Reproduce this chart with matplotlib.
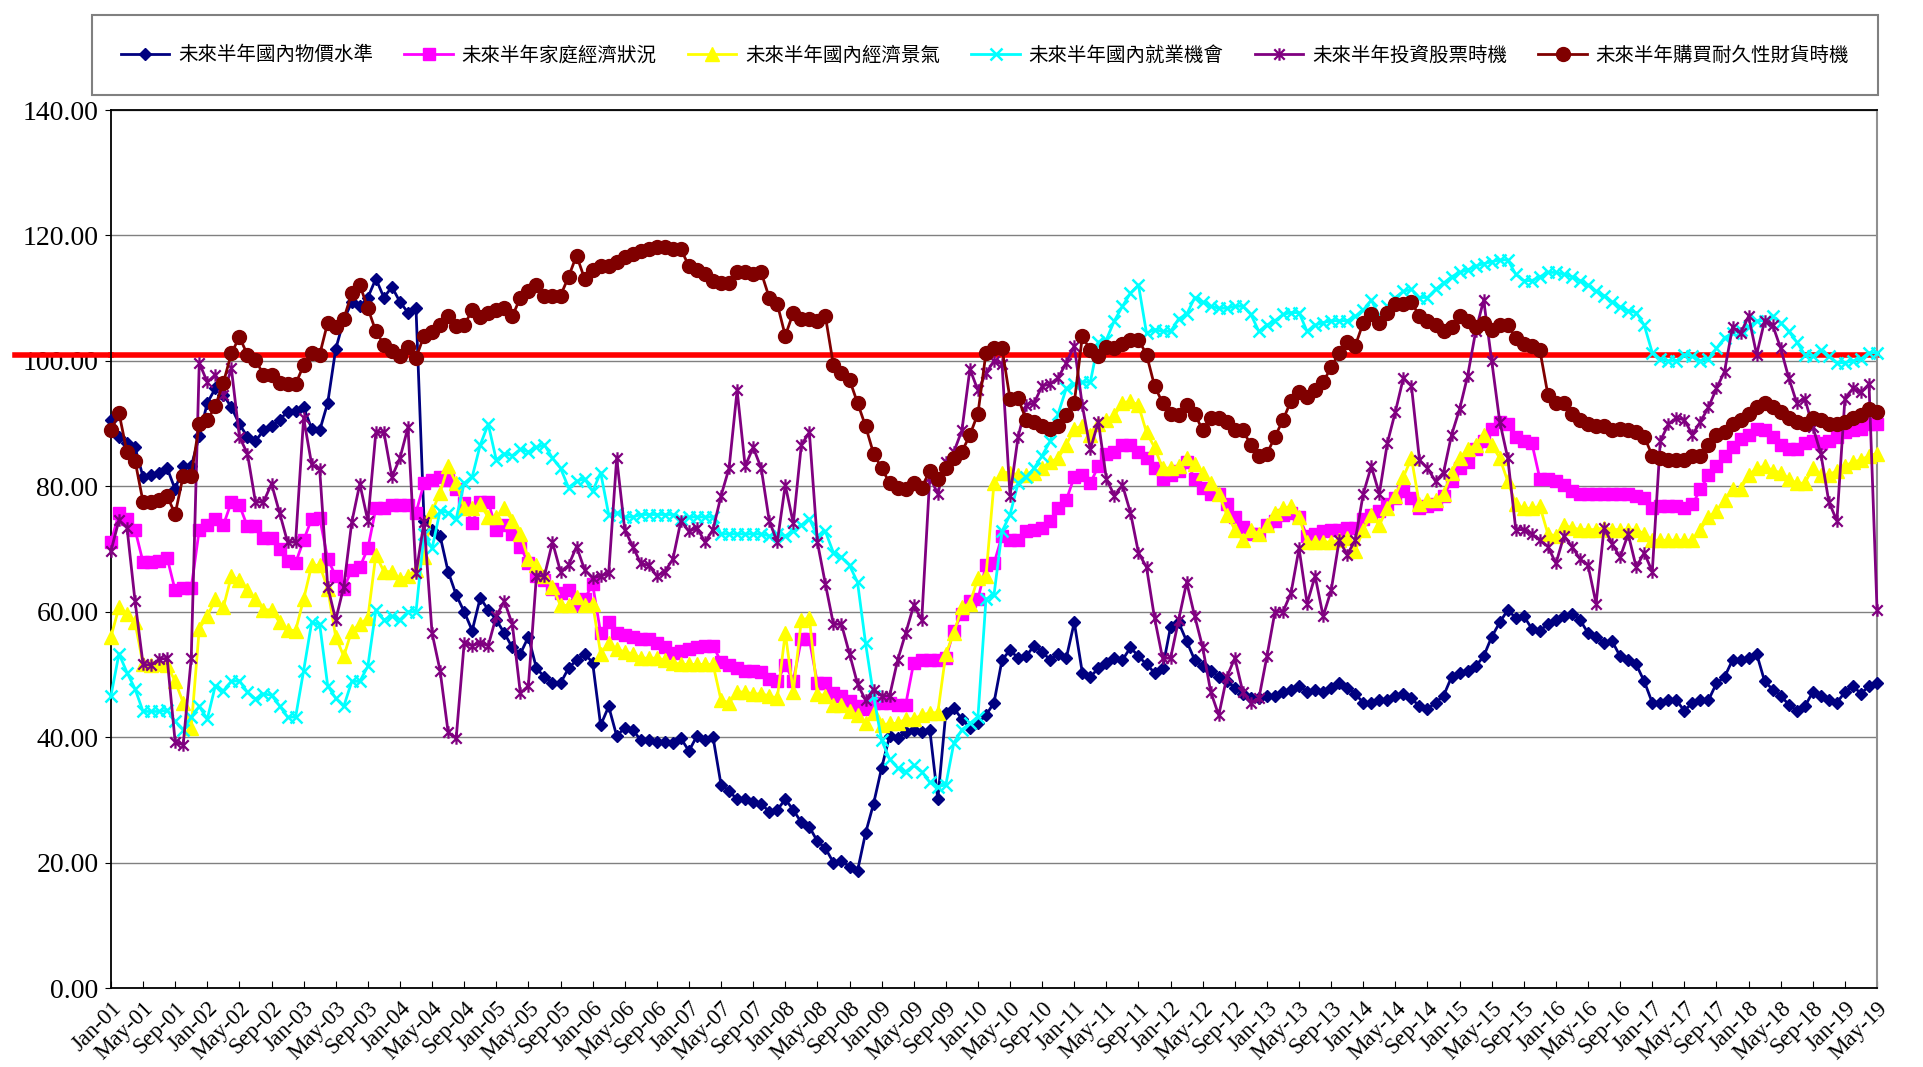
import matplotlib
matplotlib.use("Agg")
import matplotlib.pyplot as plt
from matplotlib.path import Path
from matplotlib.ticker import FormatStrFormatter
import numpy as np

# monthly survey indices, Jan-01 .. May-19
price = [
    90.6, 87.9, 86.9, 86.2, 81.5, 81.8, 82.2, 82.9, 79.5, 83.2, 83.2, 88.0,
    93.3, 95.6, 94.6, 92.6, 89.9, 87.9, 87.2, 88.9, 89.6, 90.6, 91.9, 92.0,
    92.6, 89.2, 88.9, 93.3, 101.9, 106.5, 109.4, 108.7, 110.1, 113.1, 110.1, 111.8,
    109.4, 107.7, 108.4, 74.5, 73.1, 72.1, 66.4, 62.7, 60.0, 57.0, 62.2, 60.3,
    58.7, 56.6, 54.3, 53.3, 56.0, 51.0, 49.6, 48.6, 48.6, 51.0, 52.3, 53.3,
    51.9, 41.9, 44.9, 40.2, 41.5, 41.2, 39.5, 39.5, 39.2, 39.2, 39.0, 39.8,
    37.8, 40.2, 39.5, 40.0, 32.4, 31.4, 30.1, 30.1, 29.7, 29.4, 28.1, 28.4,
    30.1, 28.4, 26.4, 25.7, 23.4, 22.3, 20.0, 20.3, 19.3, 18.7, 24.7, 29.4,
    35.1, 40.2, 39.8, 40.8, 41.2, 40.8, 41.2, 30.1, 43.9, 44.6, 42.9, 41.5,
    42.2, 43.5, 45.5, 52.3, 53.9, 52.6, 52.9, 54.6, 53.6, 52.3, 53.3, 52.6,
    58.3, 50.3, 49.6, 51.0, 51.9, 52.6, 52.3, 54.3, 52.9, 51.6, 50.3, 51.0,
    57.6, 58.3, 55.3, 52.3, 51.3, 50.6, 49.6, 48.9, 47.9, 46.9, 46.2, 46.2,
    46.6, 46.6, 47.2, 47.6, 48.2, 47.2, 47.6, 47.2, 47.9, 48.6, 47.9, 46.9,
    45.5, 45.5, 45.9, 45.9, 46.6, 46.9, 46.2, 44.9, 44.5, 45.5, 46.6, 49.6,
    50.3, 50.6, 51.3, 52.9, 56.0, 58.3, 60.3, 59.0, 59.3, 57.3, 57.0, 58.0,
    58.7, 59.3, 59.7, 58.7, 56.6, 56.0, 55.0, 55.3, 52.9, 52.3, 51.6, 48.9,
    45.5, 45.5, 45.9, 45.9, 44.2, 45.5, 45.9, 45.9, 48.6, 49.6, 52.3, 52.3,
    52.6, 53.3, 48.9, 47.6, 46.6, 45.2, 44.2, 44.9, 47.2, 46.6, 45.9, 45.5,
    47.2, 48.2, 46.9, 48.2, 48.6,
]

family = [
    71.1, 75.7, 74.8, 73.1, 67.9, 67.9, 68.1, 68.6, 63.4, 63.8, 63.8, 73.1,
    73.8, 74.8, 73.8, 77.5, 77.0, 73.6, 73.6, 71.8, 71.8, 70.0, 68.1, 67.8,
    71.4, 74.8, 75.0, 68.4, 65.7, 63.7, 66.7, 67.1, 70.1, 76.5, 76.6, 77.0,
    77.0, 77.0, 75.8, 80.5, 81.0, 81.5, 81.0, 79.5, 77.3, 74.1, 77.5, 77.5,
    73.1, 73.8, 72.4, 70.4, 67.7, 65.7, 65.0, 63.7, 63.0, 63.4, 61.0, 62.0,
    64.4, 56.6, 58.3, 56.6, 56.3, 56.0, 55.6, 55.6, 55.0, 54.3, 53.5, 53.8,
    54.0, 54.4, 54.6, 54.6, 52.0, 51.5, 51.0, 50.6, 50.6, 50.4, 49.2, 49.0,
    51.5, 49.0, 55.6, 55.6, 48.6, 48.6, 47.0, 46.5, 45.8, 45.0, 44.5, 45.5,
    45.5, 45.5, 45.2, 45.2, 51.9, 52.3, 52.3, 52.3, 52.6, 57.0, 59.7, 61.7,
    62.0, 67.4, 67.7, 72.1, 71.4, 71.4, 72.8, 73.1, 73.4, 74.5, 76.5, 77.8,
    81.5, 81.8, 80.5, 83.2, 85.2, 85.5, 86.6, 86.6, 85.5, 84.5, 82.9, 81.2,
    81.8, 82.5, 83.9, 81.2, 79.8, 78.8, 78.8, 77.1, 75.1, 73.5, 72.4, 72.4,
    73.8, 74.5, 75.5, 75.8, 75.1, 72.1, 72.4, 72.8, 73.1, 73.1, 73.4, 73.4,
    74.8, 75.5, 76.1, 77.1, 78.2, 79.2, 78.2, 76.5, 76.8, 77.1, 78.5, 80.8,
    82.9, 83.9, 85.9, 87.2, 89.2, 90.3, 89.9, 87.9, 87.2, 86.9, 81.2, 81.2,
    80.8, 80.2, 79.2, 78.8, 78.8, 78.8, 78.8, 78.8, 78.8, 78.8, 78.5, 78.2,
    76.5, 76.8, 76.8, 76.8, 76.5, 77.1, 79.5, 81.8, 83.2, 84.9, 86.2, 87.6,
    88.2, 89.2, 88.9, 87.9, 86.6, 85.9, 85.9, 86.9, 87.2, 86.9, 87.2, 87.9,
    88.6, 88.9, 89.2, 89.9, 89.9,
]

economy = [
    56.0, 60.7, 59.7, 58.3, 51.6, 51.5, 51.6, 51.5, 48.9, 45.5, 41.5, 57.3,
    59.3, 62.0, 60.7, 65.7, 65.0, 63.4, 62.0, 60.3, 60.3, 58.3, 57.1, 57.0,
    62.0, 67.4, 67.4, 63.7, 56.0, 52.9, 57.0, 58.0, 59.0, 69.1, 66.4, 66.4,
    65.2, 65.7, 66.7, 68.7, 76.0, 79.0, 83.2, 80.5, 76.5, 76.5, 77.1, 75.1,
    75.1, 76.5, 74.5, 72.4, 68.4, 67.4, 65.7, 64.0, 61.0, 61.0, 62.4, 61.0,
    61.3, 53.3, 55.0, 54.0, 53.6, 53.3, 52.6, 52.6, 52.6, 52.3, 51.9, 51.6,
    51.6, 51.6, 51.6, 51.6, 45.9, 45.5, 47.2, 47.2, 46.9, 46.9, 46.6, 46.2,
    56.6, 47.2, 58.7, 59.0, 46.9, 46.6, 45.2, 45.2, 44.2, 43.5, 42.2, 43.9,
    41.9, 42.2, 42.2, 42.9, 42.9, 43.5, 43.9, 43.9, 53.3, 56.6, 60.7, 61.3,
    65.4, 65.7, 80.5, 82.2, 82.2, 81.8, 81.8, 82.2, 82.9, 83.9, 84.5, 86.6,
    89.2, 89.6, 88.2, 89.9, 90.6, 91.3, 93.3, 93.6, 92.9, 88.6, 86.2, 82.9,
    82.9, 83.2, 84.5, 83.5, 82.2, 80.5, 78.8, 75.5, 73.1, 71.4, 73.1, 72.4,
    73.8, 75.8, 76.5, 76.8, 75.1, 71.1, 71.1, 71.1, 71.1, 71.4, 71.8, 69.7,
    73.1, 75.5, 73.8, 76.5, 78.5, 81.5, 84.5, 77.1, 77.8, 77.8, 78.8, 82.2,
    84.5, 85.9, 86.6, 88.2, 86.6, 84.5, 80.8, 77.1, 76.5, 76.5, 76.8, 72.4,
    72.1, 73.8, 73.4, 73.1, 73.1, 73.1, 73.4, 73.1, 73.1, 73.1, 73.1, 72.4,
    71.4, 71.4, 71.4, 71.4, 71.4, 71.4, 73.1, 75.1, 76.1, 77.8, 79.5, 79.5,
    81.8, 82.9, 83.2, 82.5, 82.2, 81.2, 80.5, 80.5, 82.9, 81.8, 81.8, 82.5,
    83.2, 83.9, 84.2, 84.9, 85.2,
]

jobs = [
    46.6, 53.3, 50.3, 47.7, 44.1, 44.1, 44.1, 44.3, 42.5, 41.2, 43.2, 44.9,
    42.9, 48.2, 47.4, 48.9, 49.0, 47.2, 46.1, 46.9, 46.7, 45.0, 43.2, 43.2,
    50.6, 58.3, 58.0, 48.2, 46.2, 44.9, 48.9, 48.9, 51.3, 60.3, 58.7, 59.3,
    58.7, 60.0, 60.0, 72.4, 70.1, 76.1, 75.8, 74.8, 80.5, 81.5, 86.6, 89.9,
    84.2, 85.2, 84.9, 85.9, 85.5, 86.2, 86.6, 84.5, 82.9, 79.8, 80.8, 81.2,
    79.2, 82.2, 75.5, 75.8, 75.1, 75.1, 75.5, 75.5, 75.5, 75.5, 75.5, 74.8,
    75.1, 75.1, 75.1, 75.1, 72.4, 72.4, 72.4, 72.4, 72.4, 72.4, 72.1, 72.4,
    72.1, 72.8, 73.8, 74.8, 72.1, 72.8, 69.4, 68.7, 67.4, 64.7, 55.0, 46.6,
    39.5, 36.5, 35.1, 34.5, 35.5, 34.5, 32.8, 32.1, 32.4, 39.1, 41.2, 42.2,
    43.2, 62.0, 62.7, 72.8, 75.5, 80.5, 81.5, 82.9, 84.9, 87.2, 91.6, 95.6,
    96.3, 96.6, 96.6, 103.0, 103.4, 106.4, 108.7, 110.8, 112.1, 104.4, 105.0, 104.7,
    104.7, 106.7, 107.4, 110.1, 109.4, 108.7, 108.4, 108.4, 108.7, 108.7, 107.4, 104.7,
    105.7, 106.4, 107.4, 107.7, 107.7, 104.7, 105.7, 106.1, 106.4, 106.4, 106.4, 107.1,
    108.1, 109.7, 107.1, 108.7, 110.1, 111.1, 111.4, 110.1, 110.1, 111.4, 112.4, 113.4,
    114.1, 114.5, 115.1, 115.5, 115.8, 116.1, 116.1, 113.8, 112.8, 112.8, 113.4, 114.1,
    114.1, 113.8, 113.4, 112.8, 112.1, 111.1, 110.4, 109.4, 108.6, 108.0, 107.7, 105.7,
    101.3, 100.3, 100.0, 100.0, 101.0, 100.7, 100.0, 100.3, 102.0, 103.7, 104.4, 105.0,
    105.4, 106.4, 106.4, 107.1, 106.1, 104.7, 103.0, 101.0, 100.7, 101.7, 100.7, 99.7,
    99.7, 100.0, 100.3, 101.3, 101.3,
]

stocks = [
    69.7, 74.6, 73.4, 61.7, 51.6, 51.5, 52.4, 52.6, 39.2, 38.8, 52.6, 99.7,
    96.6, 97.8, 94.6, 98.8, 87.9, 85.2, 77.5, 77.5, 80.4, 75.8, 71.1, 71.1,
    90.9, 83.5, 82.7, 64.0, 58.7, 64.0, 74.3, 80.4, 74.5, 88.6, 88.6, 81.5,
    84.5, 89.4, 66.1, 74.3, 56.6, 50.6, 40.8, 39.8, 55.0, 54.6, 55.0, 54.6,
    59.3, 61.7, 58.0, 47.0, 48.2, 65.7, 65.7, 71.1, 66.4, 67.4, 70.4, 66.7,
    65.4, 65.7, 66.1, 84.5, 73.1, 70.4, 67.7, 67.4, 65.7, 66.4, 68.4, 74.5,
    72.8, 73.4, 71.1, 73.1, 78.5, 82.9, 95.3, 83.2, 86.2, 82.9, 74.5, 71.1,
    80.2, 74.1, 86.6, 88.6, 71.1, 64.4, 58.0, 58.0, 53.3, 48.5, 45.9, 47.6,
    46.6, 46.6, 52.3, 56.6, 61.0, 58.7, 81.5, 78.8, 83.9, 85.5, 88.9, 98.7,
    95.3, 98.0, 100.0, 99.5, 78.5, 87.9, 92.9, 93.3, 96.0, 96.3, 97.3, 99.7,
    102.4, 92.9, 85.9, 90.3, 81.2, 78.5, 80.2, 75.8, 69.4, 67.1, 59.0, 52.6,
    52.6, 58.7, 64.7, 59.3, 54.3, 47.2, 43.5, 49.6, 52.6, 47.2, 45.5, 46.2,
    52.9, 60.0, 60.0, 63.0, 70.1, 61.3, 65.7, 59.3, 63.4, 71.4, 69.1, 71.4,
    78.8, 83.2, 78.8, 86.9, 91.9, 97.3, 96.0, 84.2, 82.9, 80.8, 82.2, 88.2,
    92.3, 97.6, 104.7, 109.7, 100.0, 90.3, 84.5, 73.1, 73.1, 72.4, 71.4, 70.4,
    67.7, 72.1, 70.4, 68.4, 67.4, 61.3, 73.4, 70.8, 68.7, 72.4, 67.1, 69.4,
    66.4, 87.2, 89.9, 90.9, 90.6, 88.2, 90.3, 92.6, 95.6, 98.3, 105.4, 104.4,
    107.1, 101.0, 106.4, 105.7, 102.0, 97.3, 93.3, 94.0, 89.5, 85.2, 77.5, 74.5,
    94.0, 95.6, 95.0, 96.3, 60.3,
]

durables = [
    88.9, 91.7, 85.4, 84.1, 77.5, 77.5, 77.8, 78.4, 75.6, 81.7, 81.7, 89.9,
    90.5, 92.8, 96.5, 101.2, 103.8, 101.0, 100.2, 97.8, 97.8, 96.5, 96.3, 96.3,
    99.3, 101.3, 101.0, 106.1, 105.4, 106.7, 110.8, 112.1, 108.4, 104.7, 102.6, 101.5,
    100.7, 102.2, 100.5, 104.0, 104.6, 105.7, 107.1, 105.6, 105.7, 108.1, 107.0, 107.7,
    108.1, 108.4, 107.1, 110.1, 111.1, 112.1, 110.4, 110.4, 110.4, 113.4, 116.8, 113.1,
    114.5, 115.1, 115.1, 115.8, 116.5, 117.1, 117.5, 117.8, 118.2, 118.2, 117.8, 117.8,
    115.1, 114.5, 113.8, 112.8, 112.4, 112.4, 114.1, 114.1, 113.8, 114.1, 110.1, 109.1,
    104.0, 107.7, 106.7, 106.7, 106.4, 107.1, 99.3, 98.0, 97.0, 93.3, 89.6, 85.2,
    82.9, 80.5, 79.8, 79.5, 80.5, 79.8, 82.5, 81.2, 82.9, 84.5, 85.5, 88.2,
    91.6, 101.3, 102.0, 102.0, 93.9, 94.1, 90.6, 90.3, 89.6, 89.2, 89.6, 91.3,
    93.3, 103.9, 101.7, 100.7, 102.2, 102.0, 102.7, 103.4, 103.4, 101.0, 96.0, 93.3,
    91.6, 91.3, 92.9, 91.6, 88.9, 90.9, 90.9, 90.3, 88.9, 88.9, 86.6, 84.9,
    85.2, 87.9, 90.6, 93.6, 95.0, 94.3, 95.3, 96.6, 99.0, 101.3, 103.0, 102.4,
    106.1, 107.4, 106.1, 107.7, 109.1, 109.1, 109.4, 107.1, 106.4, 105.7, 104.7, 105.4,
    107.1, 106.4, 105.4, 106.1, 105.0, 105.7, 105.7, 103.7, 102.7, 102.4, 101.7, 94.6,
    93.3, 93.3, 91.6, 90.6, 89.9, 89.6, 89.6, 88.9, 89.2, 88.9, 88.6, 87.9,
    84.9, 84.5, 84.2, 84.2, 84.2, 84.9, 84.9, 86.6, 88.2, 88.6, 89.9, 90.6,
    91.6, 92.6, 93.3, 92.6, 91.9, 90.9, 90.3, 89.9, 90.9, 90.6, 89.9, 89.9,
    90.3, 90.9, 91.3, 92.3, 91.9,
]

series_names = ["未來半年國內物價水準", "未來半年家庭經濟狀況", "未來半年國內經濟景氣",
                "未來半年國內就業機會", "未來半年投資股票時機", "未來半年購買耐久性財貨時機"]
tick_months = ["Jan", "May", "Sep"]
ref_level = 101

plt.rcParams['font.family'] = ['Liberation Serif', 'Noto Sans CJK TC']

# excel style "asterisk" marker: an x with a vertical bar
star = Path([(-1, -1), (1, 1), (-1, 1), (1, -1), (0, -1.2), (0, 1.2)],
            [Path.MOVETO, Path.LINETO, Path.MOVETO, Path.LINETO, Path.MOVETO, Path.LINETO])

styles = [
    dict(color='#000080', marker='D', ms=6.5),
    dict(color='#FF00FF', marker='s', ms=9),
    dict(color='#FFFF00', marker='^', ms=10),
    dict(color='#00FFFF', marker='x', ms=8.5, mew=1.8),
    dict(color='#800080', marker=star, ms=9, mew=1.6, mfc='none'),
    dict(color='#800000', marker='o', ms=10),
]

fig = plt.figure(figsize=(19.23, 10.67), dpi=100)
ax = fig.add_axes([0.0577, 0.074, 0.9184, 0.8229])

x = np.arange(len(price))
data = [price, family, economy, jobs, stocks, durables]
for name, vals, st in zip(series_names, data, styles):
    ax.plot(x, vals, lw=2, label=name, clip_on=False, zorder=3, **st)

ax.axhline(ref_level, color='#FF0000', lw=4, zorder=2.5, clip_on=False)
ax.plot([-12, 0], [ref_level, ref_level], color='#FF0000', lw=4, clip_on=False, zorder=2.5)

ax.set_xlim(0, len(price) - 1)
ax.set_ylim(0, 140)
ax.set_yticks(np.arange(0, 141, 20))
ax.yaxis.set_major_formatter(FormatStrFormatter('%.2f'))
ax.yaxis.grid(True, color='#808080', lw=1)
ax.set_axisbelow(True)

xt = np.arange(0, len(price), 4)
xl = [f"{tick_months[i % 3]}-{i // 3 + 1:02d}" for i in range(len(xt))]
ax.set_xticks(xt)
ax.set_xticklabels(xl, rotation=45, ha='right', rotation_mode='anchor')
ax.tick_params(axis='x', direction='in', length=5, labelsize=16.5, pad=7)
ax.tick_params(axis='y', direction='out', length=4, labelsize=20, pad=5)

for s in ['left', 'bottom', 'top']:
    ax.spines[s].set_color('black')
    ax.spines[s].set_linewidth(1.3)
ax.spines['right'].set_color('#909090')
ax.spines['right'].set_linewidth(1.5)

leg = fig.legend(loc='center', bbox_to_anchor=(0.5122, 0.9485), ncol=6,
                 prop={'family': 'Noto Sans CJK TC', 'size': 14},
                 handlelength=2.5, handletextpad=0.45, columnspacing=1.6,
                 borderpad=1.5, fancybox=False, framealpha=1)
leg.get_frame().set_edgecolor('#808080')
leg.get_frame().set_linewidth(1.5)

fig.savefig("out.png", dpi=100)
